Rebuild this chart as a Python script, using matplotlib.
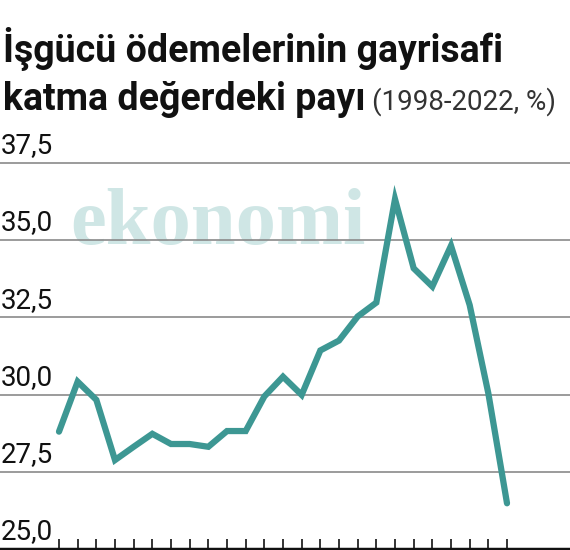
import matplotlib
matplotlib.use("Agg")
import matplotlib.pyplot as plt

years = list(range(1998, 2023))
values = [28.80, 30.42, 29.83, 27.88, 28.31, 28.73, 28.40, 28.40, 28.31, 28.82, 28.82,
          29.94, 30.58, 29.99, 31.43, 31.75, 32.53, 32.98, 36.33, 34.09, 33.50, 34.82,
          32.90, 30.04, 26.48]
yticks = [25.0, 27.5, 30.0, 32.5, 35.0, 37.5]
ylabels = ["25,0", "27,5", "30,0", "32,5", "35,0", "37,5"]

FONT = ["Liberation Sans Narrow", "Roboto", "DejaVu Sans"]
plt.rcParams['font.family'] = FONT

fig = plt.figure(figsize=(5.7, 5.5), dpi=100)
ax = fig.add_axes([0, 1 - 549/550, 1, 386/550])
ax.set_xlim(1998 - 59/18.67, 2022 + 63/18.67)
ax.set_ylim(25, 37.5)

for yv, lab in zip(yticks, ylabels):
    if yv > 25:
        ax.axhline(yv, color="#8a8a8a", lw=1.2, zorder=1, clip_on=False)
    ax.text(1998 - 58/18.67, yv + 0.12, lab, fontsize=20, va="bottom", ha="left", color="#111111")

ax.text(2006.5, 35.5, "ekonomi", fontsize=58, family=["Liberation Serif", "DejaVu Serif"],
        fontweight="bold", color="#cfe6e5", ha="center", va="center", zorder=0)

ax.plot(years, values, color="#3d9793", lw=4.5, solid_capstyle="round", solid_joinstyle="miter", zorder=3)

ax.set_yticks([])
ax.set_xticks(years)
ax.set_xticklabels([])
ax.tick_params(axis="x", direction="in", length=7, width=1.2, color="#111111")
for s in ["top", "left", "right"]:
    ax.spines[s].set_visible(False)
ax.spines["bottom"].set_linewidth(2.5)
ax.spines["bottom"].set_color("#111111")

fig.text(0.005, 1 - 62/550, "İşgücü ödemelerinin gayrisafi", fontsize=27, fontweight="bold", ha="left", va="baseline", color="#111111")
t = fig.text(0.005, 1 - 110/550, "katma değerdeki payı", fontsize=27, fontweight="bold", ha="left", va="baseline", color="#111111")
fig.canvas.draw()
bb = t.get_window_extent()
fig.text(bb.x1/570 + 0.012, 1 - 110/550, "(1998-2022, %)", fontsize=20, ha="left", va="baseline", color="#333333")

fig.savefig("out.png", dpi=100)
